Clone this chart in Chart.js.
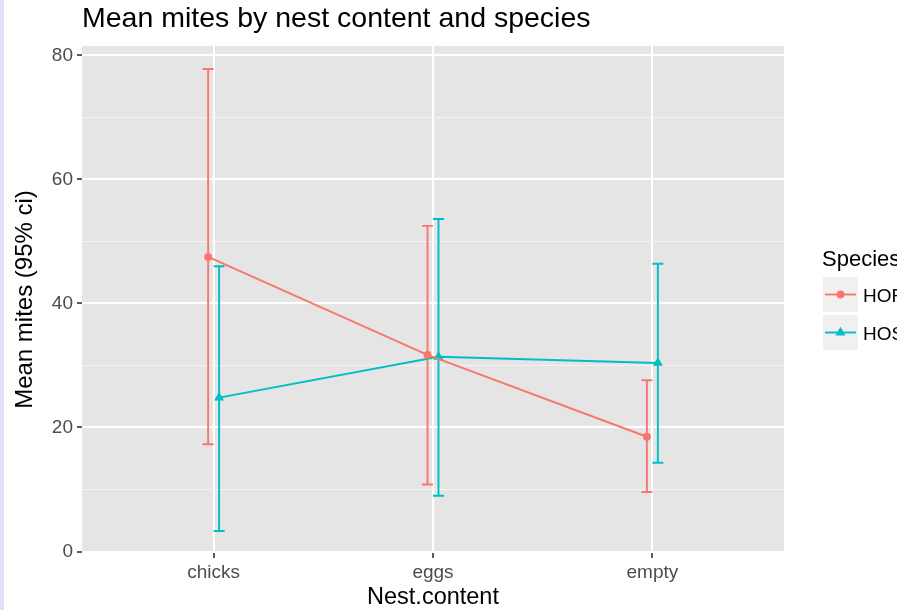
<!DOCTYPE html>
<html>
<head>
<meta charset="utf-8">
<script src="https://cdn.jsdelivr.net/npm/chart.js@4/dist/chart.umd.min.js"></script>
<style>
  html, body { margin: 0; padding: 0; background: #ffffff; }
  #wrap { position: relative; width: 897px; height: 610px; }
  canvas { display: block; }
</style>
</head>
<body>
<div id="wrap"><canvas id="c" width="897" height="610"></canvas></div>
<script>
// ---- data ----
const categories = ['chicks', 'eggs', 'empty'];
const speciesNames = ['HOFI', 'HOSP'];
const hofiMean  = [47.5, 31.7, 18.5];
const hofiLower = [17.3, 10.8, 9.6];
const hofiUpper = [77.8, 52.5, 27.6];
const hospMean  = [24.8, 31.4, 30.4];
const hospLower = [3.3, 9.0, 14.3];
const hospUpper = [46.0, 53.6, 46.4];
const yMajorTicks = [0, 20, 40, 60, 80];
const yMinorTicks = [10, 30, 50, 70];

const chartTitle = 'Mean mites by nest content and species';
const xTitle = 'Nest.content';
const yTitle = 'Mean mites (95% ci)';
const legendTitle = 'Species';

const COL_HOFI = '#F8766D';
const COL_HOSP = '#00BFC4';
const DODGE = 0.025;   // category units
const CAP = 0.025;     // half cap width, category units
const FONT = '"Liberation Sans", Arial, Helvetica, sans-serif';

const series = [
  { name: speciesNames[0], mean: hofiMean, lo: hofiLower, hi: hofiUpper, color: COL_HOFI, shape: 'circle', r: 3.9, off: -DODGE },
  { name: speciesNames[1], mean: hospMean, lo: hospLower, hi: hospUpper, color: COL_HOSP, shape: 'triangle', r: 5.8, off: DODGE }
];

const datasets = series.map(s => ({
  label: s.name,
  data: s.mean.map((v, i) => ({ x: i + 1 + s.off, y: v })),
  borderColor: s.color,
  backgroundColor: s.color,
  borderWidth: 1.9,
  pointStyle: s.shape,
  pointRadius: s.r,
  pointBorderWidth: 0,
  pointHoverRadius: s.r,
  tension: 0,
  fill: false
}));

const panelBg = {
  id: 'panelBg',
  beforeDraw(chart) {
    const { ctx, chartArea: a } = chart;
    ctx.save();
    ctx.fillStyle = '#e1e1fb';
    ctx.fillRect(0, 0, 4, chart.height);
    ctx.fillStyle = '#e5e5e5';
    ctx.fillRect(a.left, a.top, a.right - a.left, a.bottom - a.top);
    ctx.restore();
  }
};

const errorBars = {
  id: 'errorBars',
  beforeDatasetsDraw(chart) {
    const { ctx } = chart;
    const xs = chart.scales.x, ys = chart.scales.y;
    ctx.save();
    ctx.lineWidth = 1.9;
    series.forEach(s => {
      ctx.strokeStyle = s.color;
      s.mean.forEach((m, i) => {
        const xc = i + 1 + s.off;
        const px = xs.getPixelForValue(xc);
        const pl = xs.getPixelForValue(xc - CAP);
        const pr = xs.getPixelForValue(xc + CAP);
        const yl = ys.getPixelForValue(s.lo[i]);
        const yh = ys.getPixelForValue(s.hi[i]);
        ctx.beginPath();
        ctx.moveTo(px, yl); ctx.lineTo(px, yh);
        ctx.moveTo(pl, yl); ctx.lineTo(pr, yl);
        ctx.moveTo(pl, yh); ctx.lineTo(pr, yh);
        ctx.stroke();
      });
    });
    ctx.restore();
  }
};

const textBits = {
  id: 'textBits',
  afterDraw(chart) {
    const { ctx } = chart;
    ctx.save();
    // title
    ctx.fillStyle = '#000';
    ctx.font = '28.5px ' + FONT;
    ctx.textAlign = 'left';
    ctx.textBaseline = 'alphabetic';
    ctx.fillText(chartTitle, 82, 27);
    // legend
    ctx.font = '22px ' + FONT;
    ctx.fillText(legendTitle, 822, 266);
    series.forEach((s, k) => {
      const top = 277 + k * 38;
      ctx.fillStyle = '#f0f0f0';
      ctx.fillRect(823, top, 35, 35);
      const cy = top + 17.5;
      ctx.strokeStyle = s.color;
      ctx.lineWidth = 1.9;
      ctx.beginPath();
      ctx.moveTo(825, cy); ctx.lineTo(856, cy);
      ctx.stroke();
      ctx.fillStyle = s.color;
      ctx.beginPath();
      if (s.shape === 'circle') {
        ctx.arc(840.5, cy, s.r, 0, Math.PI * 2);
      } else {
        const r = s.r;
        ctx.moveTo(840.5, cy - r);
        ctx.lineTo(840.5 + r * 0.866, cy + r * 0.5);
        ctx.lineTo(840.5 - r * 0.866, cy + r * 0.5);
        ctx.closePath();
      }
      ctx.fill();
      ctx.fillStyle = '#000';
      ctx.font = '19px ' + FONT;
      ctx.fillText(s.name, 863, cy + 7);
    });
    ctx.restore();
  }
};

new Chart(document.getElementById('c'), {
  type: 'line',
  data: { datasets },
  options: {
    responsive: false,
    animation: false,
    events: [],
    layout: { padding: { left: 0, top: 46, right: 113, bottom: 0 } },
    plugins: {
      legend: { display: false },
      title: { display: false },
      tooltip: { enabled: false }
    },
    scales: {
      x: {
        type: 'linear',
        min: 0.4,
        max: 3.6,
        afterBuildTicks(scale) {
          scale.ticks = categories.map((c, i) => ({ value: i + 1 }));
        },
        afterFit(scale) { scale.height = 57; },
        border: { display: false },
        grid: {
          color: '#ffffff',
          lineWidth: 2,
          drawTicks: true,
          tickLength: 5,
          tickColor: '#333333',
          tickWidth: 1.6
        },
        ticks: {
          padding: 3,
          color: '#4d4d4d',
          font: { family: FONT, size: 19 },
          maxRotation: 0,
          autoSkip: false,
          callback: (v) => categories[Math.round(v) - 1] || ''
        },
        title: {
          display: true,
          text: xTitle,
          color: '#000',
          font: { family: FONT, size: 23.5, lineHeight: 1.1 },
          padding: { top: 0, bottom: 0 }
        }
      },
      y: {
        type: 'linear',
        min: -0.24,
        max: 81.5,
        afterBuildTicks(scale) {
          scale.ticks = yMajorTicks.concat(yMinorTicks).sort((a, b) => a - b).map(v => ({ value: v }));
        },
        afterFit(scale) { scale.width = 82; },
        border: { display: false },
        grid: {
          color: (ctx) => (ctx.tick && yMajorTicks.includes(ctx.tick.value)) ? '#ffffff' : '#f4f4f4',
          lineWidth: (ctx) => (ctx.tick && yMajorTicks.includes(ctx.tick.value)) ? 2 : 1,
          drawTicks: true,
          tickLength: 5,
          tickColor: (ctx) => (ctx.tick && yMajorTicks.includes(ctx.tick.value)) ? '#333333' : 'rgba(0,0,0,0)',
          tickWidth: 1.6
        },
        ticks: {
          padding: 4,
          color: '#4d4d4d',
          font: { family: FONT, size: 19 },
          autoSkip: false,
          callback: (v) => yMajorTicks.includes(v) ? String(v) : ''
        },
        title: {
          display: true,
          text: yTitle,
          color: '#000',
          font: { family: FONT, size: 24 },
          padding: { top: 10.5, bottom: 0 }
        }
      }
    }
  },
  plugins: [panelBg, errorBars, textBits]
});
</script>
</body>
</html>
